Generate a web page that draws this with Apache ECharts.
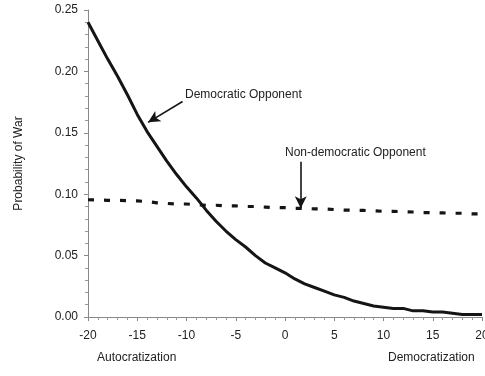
<!DOCTYPE html>
<html><head><meta charset="utf-8">
<script src="https://cdn.jsdelivr.net/npm/echarts@6/dist/echarts.min.js"></script>
<style>html,body{margin:0;padding:0;background:#fff}#c{width:485px;height:376px}</style>
</head><body><div id="c"></div>
<script>
var change = [];
for (var i = -20; i <= 20; i++) change.push(i);
var democraticOpponent = [0.240,0.225,0.210,0.196,0.181,0.165,0.151,0.139,0.127,0.116,0.106,0.097,0.087,0.078,0.070,0.063,0.057,0.050,0.044,0.040,0.036,0.031,0.027,0.024,0.021,0.018,0.016,0.013,0.011,0.009,0.008,0.007,0.007,0.005,0.005,0.004,0.004,0.003,0.002,0.002,0.002];
var nonDemocraticOpponent = [0.0955,0.0953,0.095,0.095,0.0948,0.0945,0.094,0.093,0.0925,0.092,0.092,0.0915,0.091,0.091,0.0905,0.0905,0.090,0.090,0.0895,0.089,0.089,0.0885,0.0885,0.088,0.088,0.0875,0.087,0.087,0.0868,0.0865,0.086,0.086,0.0858,0.0855,0.085,0.085,0.0848,0.0845,0.0845,0.084,0.084];
var yTicks = [0, 0.05, 0.10, 0.15, 0.20, 0.25];
var xTicks = [-20, -15, -10, -5, 0, 5, 10, 15, 20];
var labelDem = 'Democratic Opponent';
var labelNonDem = 'Non-democratic Opponent';

function pairs(ys){ return change.map(function(x,i){ return [x, ys[i]]; }); }

var font = 'Liberation Sans, Arial, sans-serif';
var chart = echarts.init(document.getElementById('c'), null, {renderer:'canvas'});
chart.setOption({
  animation: false,
  grid: {left: 88, right: 3, top: 10, bottom: 59, containLabel: false, outerBoundsMode: 'none'},
  xAxis: {
    type: 'value', min: -20, max: 20, interval: 5,
    axisLine: {onZero: false, lineStyle: {color: '#888', width: 1}},
    axisTick: {show: true, length: 4, lineStyle: {color: '#888'}},
    minorTick: {show: true, splitNumber: 5, length: 3, lineStyle: {color: '#999'}},
    splitLine: {show: false},
    axisLabel: {color: '#222', fontFamily: font, fontSize: 12, margin: 13, hideOverlap: false,
      formatter: function(v){ return xTicks.indexOf(v) >= 0 ? String(v) : ''; }}
  },
  yAxis: {
    type: 'value', min: 0, max: 0.25, interval: 0.05,
    name: 'Probability of War', nameLocation: 'middle', nameGap: 63, nameRotate: 90,
    nameTextStyle: {color: '#222', fontFamily: font, fontSize: 12},
    axisLine: {show: true, onZero: false, lineStyle: {color: '#888', width: 1}},
    axisTick: {show: true, length: 4, lineStyle: {color: '#888'}},
    minorTick: {show: true, splitNumber: 5, length: 3, lineStyle: {color: '#999'}},
    splitLine: {show: false},
    axisLabel: {color: '#222', fontFamily: font, fontSize: 12, margin: 10,
      formatter: function(v){ return v.toFixed(2); }}
  },
  series: [
    {
      name: labelDem, type: 'line', data: pairs(democraticOpponent),
      showSymbol: false,
      lineStyle: {color: '#151515', width: 3},
      markLine: {
        silent: true, symbol: ['none', 'arrow'], symbolSize: [9, 12],
        lineStyle: {color: '#151515', width: 1.6, type: 'solid'},
        label: {show: false},
        data: [[{coord: [-10.4, 0.1755]}, {coord: [-13.9, 0.1585]}]]
      }
    },
    {
      name: labelNonDem, type: 'line', data: pairs(nonDemocraticOpponent),
      showSymbol: false,
      lineStyle: {color: '#151515', width: 3.2, type: [6, 10]},
      markLine: {
        silent: true, symbol: ['none', 'arrow'], symbolSize: [9, 12],
        lineStyle: {color: '#151515', width: 1.6, type: 'solid'},
        label: {show: false},
        data: [[{coord: [1.6, 0.1265]}, {coord: [1.6, 0.0885]}]]
      }
    }
  ],
  graphic: [
    {type: 'text', left: 185, top: 89, style: {text: labelDem, fontFamily: font, fontSize: 12, fill: '#222'}},
    {type: 'text', left: 285, top: 147, style: {text: labelNonDem, fontFamily: font, fontSize: 12, fill: '#222'}},
    {type: 'text', left: 97, top: 352, style: {text: 'Autocratization', fontFamily: font, fontSize: 12, fill: '#222'}},
    {type: 'text', left: 388, top: 352, style: {text: 'Democratization', fontFamily: font, fontSize: 12, fill: '#222'}}
  ]
});
</script></body></html>
